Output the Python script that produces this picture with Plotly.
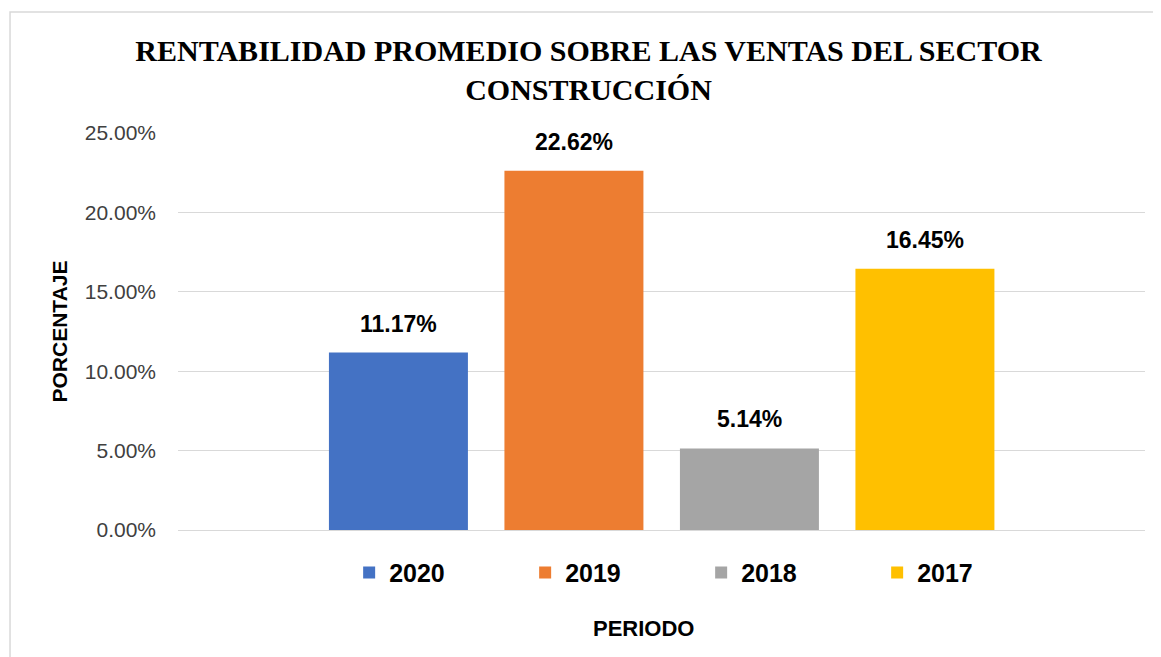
import plotly.graph_objects as go

periodos = ["2020", "2019", "2018", "2017"]
rentabilidad = [0.1117, 0.2262, 0.0514, 0.1645]
colores = ["#4472C4", "#ED7D31", "#A5A5A5", "#FFC000"]

titulo = "<b>RENTABILIDAD PROMEDIO SOBRE LAS VENTAS DEL SECTOR<br>CONSTRUCCIÓN</b>"

fig = go.Figure()

for i, (periodo, valor, color) in enumerate(zip(periodos, rentabilidad, colores)):
    fig.add_trace(go.Bar(
        x=[periodo], y=[valor], name=periodo,
        marker=dict(color=color, line=dict(width=0)),
    ))
    # etiqueta de datos encima de la barra (eje categorico -> indice)
    fig.add_annotation(
        x=i, y=valor, text="<b>{:.2%}</b>".format(valor),
        showarrow=False, yanchor="bottom", yshift=14,
        font=dict(family="Liberation Sans", size=23, color="black"),
    )

# titulo del eje x como anotacion (va algo a la izquierda del centro)
fig.add_annotation(
    x=0.4814, y=-0.2469, xref="paper", yref="paper", text="<b>PERIODO</b>",
    showarrow=False, xanchor="center", yanchor="middle",
    font=dict(family="Liberation Sans", size=22, color="black"),
)

# la pagina tiene 8px de margen en el body, se compensa en los margenes
fig.update_layout(
    width=1161, height=657,
    margin=dict(l=170, r=24, t=125, b=135),
    paper_bgcolor="white", plot_bgcolor="white",
    barmode="overlay", bargap=0.208,
    title=dict(text=titulo, x=0.5, xanchor="center", y=0.92, yanchor="top",
               font=dict(family="Liberation Serif", size=30, color="black")),
    font=dict(family="Liberation Sans", color="#404040"),
    legend=dict(orientation="h", x=0.541, xanchor="center", y=-0.05, yanchor="top",
                entrywidth=131, entrywidthmode="pixels",
                font=dict(size=25, color="black", family="Liberation Sans", weight="bold"),
                traceorder="normal"),
    showlegend=True,
)

fig.update_xaxes(
    type="category",
    range=[-1.256, 4.254], showticklabels=False, showgrid=False,
    showline=True, linecolor="#D9D9D9", linewidth=1, ticks="",
)
fig.update_yaxes(
    range=[0, 0.25], dtick=0.05, tickformat=".2%",
    showgrid=True, gridcolor="#D9D9D9", gridwidth=1, zeroline=False,
    tickfont=dict(size=21, color="#404040"), ticks="", ticklabelstandoff=21,
    title=dict(text="<b>PORCENTAJE</b>", standoff=11,
               font=dict(size=21, color="black")),
)

# marco exterior del grafico
fig.add_shape(type="rect", xref="paper", yref="paper",
              x0=-0.1737, x1=1.06, y0=-0.35, y1=1.3048,
              line=dict(color="#D9D9D9", width=1.5), fillcolor="rgba(0,0,0,0)",
              layer="below")

fig.write_html("out.html")
